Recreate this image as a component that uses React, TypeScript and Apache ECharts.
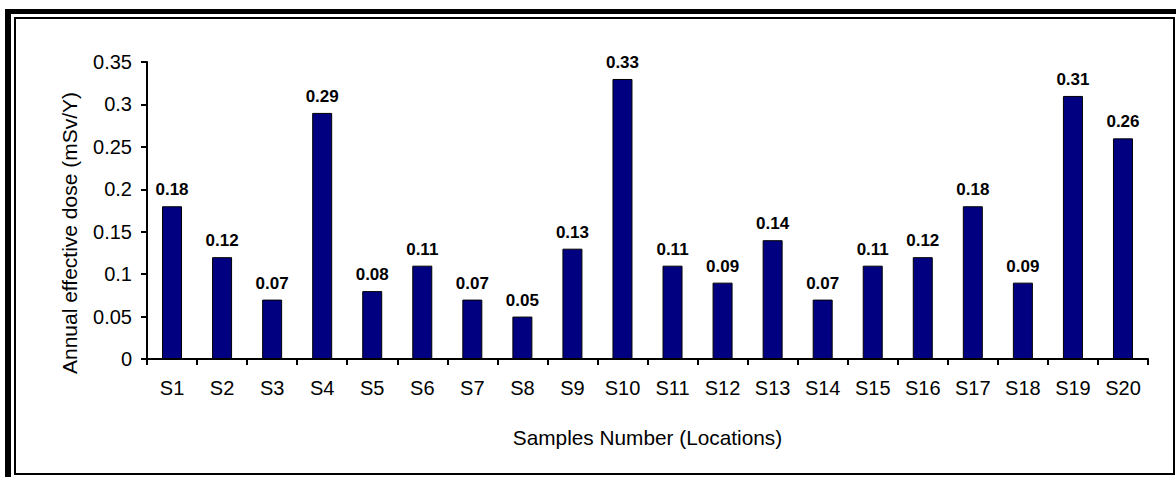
import React, { useEffect, useRef } from "react";
import * as echarts from "echarts";

const categories = ["S1","S2","S3","S4","S5","S6","S7","S8","S9","S10","S11","S12","S13","S14","S15","S16","S17","S18","S19","S20"];
const doses = [0.18,0.12,0.07,0.29,0.08,0.11,0.07,0.05,0.13,0.33,0.11,0.09,0.14,0.07,0.11,0.12,0.18,0.09,0.31,0.26];
const yAxisTitle = "Annual effective dose (mSv/Y)";
const xAxisTitle = "Samples Number (Locations)";

const FONT = "'Liberation Sans', Arial, sans-serif";

export default function App() {
  const ref = useRef<HTMLDivElement>(null);
  useEffect(() => {
    if (!ref.current) return;
    const chart = echarts.init(ref.current, undefined, { renderer: "svg" });
    chart.setOption({
      animation: false,
      backgroundColor: "#ffffff",
      textStyle: { fontFamily: FONT },
      grid: { left: 147, right: 28, top: 62, bottom: 118, containLabel: false },
      graphic: [
        { type: "rect", shape: { x: 5, y: 9, width: 1171, height: 5 }, style: { fill: "#000" } },
        { type: "rect", shape: { x: 5, y: 9, width: 6, height: 468 }, style: { fill: "#000" } },
        { type: "rect", shape: { x: 15, y: 18, width: 1159, height: 456 }, style: { fill: "none", stroke: "#000", lineWidth: 2 } },
        {
          type: "text",
          x: 69,
          y: 233,
          rotation: Math.PI / 2,
          style: {
            text: yAxisTitle,
            fill: "#000",
            font: `21px ${FONT}`,
            textAlign: "center",
            textVerticalAlign: "middle",
          },
        },
      ],
      xAxis: {
        type: "category",
        data: categories,
        name: xAxisTitle,
        nameLocation: "middle",
        nameGap: 68,
        nameTextStyle: { fontSize: 20.8, color: "#000", fontFamily: FONT },
        axisLine: { lineStyle: { color: "#000", width: 2 } },
        axisTick: { show: true, inside: false, length: 6, lineStyle: { color: "#000", width: 2 } },
        axisLabel: { color: "#000", fontSize: 20, margin: 19, fontFamily: FONT },
      },
      yAxis: {
        type: "value",
        min: 0,
        max: 0.35,
        interval: 0.05,
        axisLine: { show: true, lineStyle: { color: "#000", width: 2 } },
        axisTick: { show: true, inside: false, length: 6, lineStyle: { color: "#000", width: 2 } },
        axisLabel: { color: "#000", fontSize: 20, margin: 15, fontFamily: FONT },
        splitLine: { show: false },
      },
      series: [
        {
          type: "bar",
          data: doses,
          barWidth: 20,
          itemStyle: { color: "#000080", borderColor: "#000", borderWidth: 1 },
          label: {
            show: true,
            position: "top",
            distance: 8,
            fontSize: 17,
            fontWeight: "bold",
            color: "#000",
            fontFamily: FONT,
            formatter: (p: any) => String(p.value),
          },
        },
      ],
    });
    return () => chart.dispose();
  }, []);
  return <div ref={ref} style={{ position: "fixed", left: 0, top: 0, width: 1176, height: 477 }} />;
}
